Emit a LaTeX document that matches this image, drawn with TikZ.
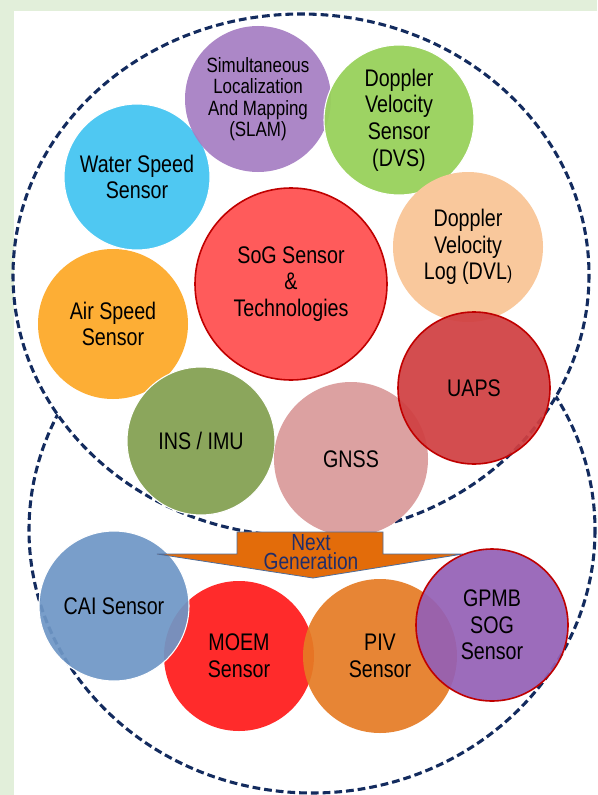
\documentclass[tikz,border=0pt]{standalone}
\usepackage{fontspec}
\setmainfont[FakeStretch=0.82]{Liberation Sans}
\definecolor{bggreen}{HTML}{E2EFDA}
\definecolor{navy}{HTML}{132B5E}
\definecolor{cslam}{HTML}{A67DC3}
\definecolor{cdvs}{HTML}{98D15B}
\definecolor{cwater}{HTML}{4FC8F2}
\definecolor{cdvl}{HTML}{F9C89C}
\definecolor{csog}{HTML}{FF5B5B}
\definecolor{cair}{HTML}{FDAE35}
\definecolor{cuaps}{HTML}{D04042}
\definecolor{cins}{HTML}{8BA65C}
\definecolor{cgnss}{HTML}{DCA1A1}
\definecolor{ccai}{HTML}{6F97C6}
\definecolor{cmoem}{HTML}{FF2B2B}
\definecolor{cpiv}{HTML}{E57B24}
\definecolor{cgpmb}{HTML}{9460B6}
\definecolor{darkred}{HTML}{C00000}
\definecolor{carrow}{HTML}{E36C0A}
\definecolor{carrowline}{HTML}{4F6D9A}
\definecolor{ngtext}{HTML}{1F2D6B}
\tikzset{
  bub/.style={circle, inner sep=0pt, align=center, text=black,
    font=\fontsize{18}{20}\selectfont},
  redrim/.style={draw=darkred, line width=1.2pt},
  whiterim/.style={draw=white, line width=0.8pt},
  dashline/.style={draw=navy, line width=2.3pt, dash pattern=on 5.8pt off 3pt}
}
\begin{document}
\begin{tikzpicture}[x=0.75pt, y=-0.75pt]
\useasboundingbox (0,0) rectangle (597,795);
\fill[bggreen] (0,0) rectangle (597,795);
\fill[white] (14,11) rectangle (597,795);
% dashed enclosures
\path[dashline] (301,275) ellipse [x radius=288, y radius=261];
\begin{scope}[even odd rule]
  \clip (-20,-20) rectangle (620,820) (301,275) ellipse [x radius=288, y radius=261];
  \path[dashline] (312,530) ellipse [x radius=283, y radius=263];
\end{scope}
% upper circles
\node[bub, fill=cair, minimum size=112.5pt] (air) at (113,324) {Air Speed\\Sensor};
\node[bub, fill=cwater, whiterim, minimum size=109.5pt] (water) at (137,177) {Water Speed\\Sensor};
\node[bub, fill=cslam, fill opacity=0.92, text opacity=1, minimum size=109.5pt,
  font=\fontsize{15.5}{16}\selectfont] (slam) at (258,99) {Simultaneous\\Localization\\And Mapping\\(SLAM)};
\node[bub, fill=cdvs, whiterim, fill opacity=0.95, text opacity=1, minimum size=112.5pt] (dvs) at (399,120) {Doppler\\Velocity\\Sensor\\(DVS)};
\node[bub, fill=cdvl, minimum size=112.5pt] (dvl) at (468,247) {Doppler\\Velocity\\Log (DVL{\fontsize{14}{14}\selectfont)}};
\node[bub, fill=csog, redrim, minimum size=144pt] (sog) at (291,284) {SoG Sensor\\\&\\Technologies};
\node[bub, fill=cins, whiterim, minimum size=111pt] (ins) at (201,441) {INS / IMU};
\node[bub, fill=cgnss, minimum size=115.5pt] (gnss) at (351,459) {GNSS};
\node[bub, fill=cuaps, redrim, fill opacity=0.93, text opacity=1, minimum size=114pt] (uaps) at (474,388) {UAPS};
% lower circles
\node[bub, fill=cmoem, minimum size=112.5pt] (moem) at (239,656) {MOEM\\Sensor};
\node[bub, fill=cpiv, fill opacity=0.92, text opacity=1, minimum size=115.5pt] (piv) at (380,656) {PIV\\Sensor};
\node[bub, fill=ccai, whiterim, fill opacity=0.93, text opacity=1, minimum size=112.5pt] (cai) at (114,606) {CAI Sensor};
% next generation arrow
\coordinate (a1) at (237,532);
\coordinate (a2) at (383,532);
\coordinate (a3) at (383,554);
\coordinate (a4) at (463,554);
\coordinate (a5) at (313,578);
\coordinate (a6) at (157,554);
\coordinate (a7) at (237,554);
\filldraw[fill=carrow, draw=carrowline, line width=0.6pt] (a1) -- (a2) -- (a3) -- (a4) -- (a5) -- (a6) -- (a7) -- cycle;
\node[align=center, text=ngtext, inner sep=0pt, font=\fontsize{17.5}{14.5}\selectfont] (ng) at (311,552) {Next\\Generation};
\node[bub, fill=cgpmb, redrim, fill opacity=0.92, text opacity=1, minimum size=114pt] (gpmb) at (492,625) {GPMB\\SOG\\Sensor};
\end{tikzpicture}
\end{document}
